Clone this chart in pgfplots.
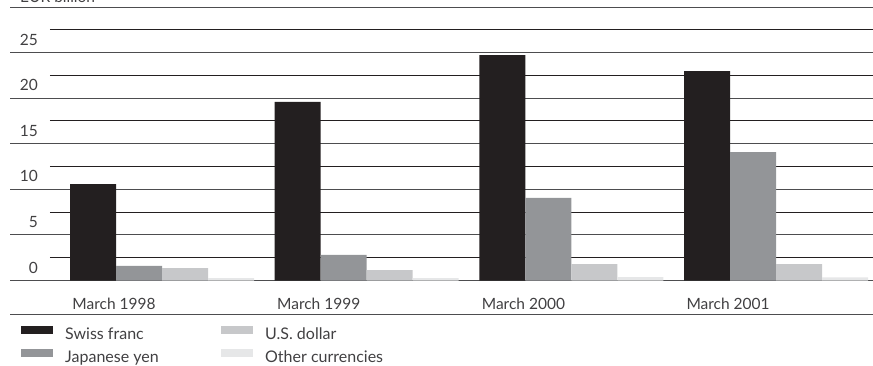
\documentclass[border=0pt]{standalone}
\usepackage{fontspec}
\setmainfont{Lato}
\usepackage{pgfplots}
\pgfplotsset{compat=1.18}
\definecolor{cSwiss}{HTML}{231F20}
\definecolor{cYen}{HTML}{939598}
\definecolor{cUSD}{HTML}{C7C8CA}
\definecolor{cOther}{HTML}{E6E7E8}
\definecolor{gridA}{HTML}{4D4D4F}
\definecolor{gridB}{HTML}{231F20}
\definecolor{txt}{HTML}{414042}
\begin{document}
\begin{tikzpicture}[x=1pt,y=1pt]
\useasboundingbox (0,0) rectangle (873,365);
\node[anchor=base west, inner sep=0pt, text=txt, font=\fontsize{15.5}{18}\selectfont] at (20,362.5) {EUR billion};
\begin{axis}[
  at={(10pt,84.5pt)}, anchor=south west,
  scale only axis, width=863pt, height=273.5pt,
  xmin=-0.7426, xmax=3.4734, ymin=0, ymax=30,
  ybar=0pt, bar width=46pt,
  axis line style={draw=none}, tick style={draw=none},
  ytick={0,5,...,30}, yticklabels={0,5,10,15,20,25,{}},
  ymajorgrids, major grid style={gridA, line width=1pt},
  yticklabel style={anchor=east, inner sep=0pt, xshift=28pt, yshift=13pt},
  xtick={0,1,2,3}, xticklabels={March 1998, March 1999, March 2000, March 2001},
  xticklabel style={anchor=base, inner sep=0pt, xshift=-48pt, yshift=-24.5pt},
  tick label style={font=\fontsize{15.5}{18}\selectfont, text=txt},
  /pgf/number format/assume math mode=true,
  legend style={at={(0,0)}, anchor=north west, xshift=11pt, yshift=-45.2pt,
    draw=none, fill=none, inner sep=0pt, column sep=12pt, row sep=6.5pt,
    nodes={inner sep=0pt, text height=11pt, text depth=3pt,
      font=\fontsize{16}{18}\selectfont, text=txt}},
  legend columns=2, transpose legend, legend cell align=left,
  legend image code/.code={\path[#1, draw=none] (0pt,1.7pt) rectangle (32pt,9.7pt);},
]
\pgfplotsinvokeforeach{2.5,7.5,12.5,17.5,22.5,27.5}{
  \draw[gridB, line width=1pt] (axis cs:-0.5472,#1) -- (axis cs:3.4734,#1);
}
\addplot[fill=cSwiss, draw=none] coordinates {(0,10.58) (1,19.58) (2,24.73) (3,22.98)};
\addlegendentry{\makebox[144pt][l]{Swiss franc}}
\addplot[fill=cYen, draw=none] coordinates {(0,1.6) (1,2.8) (2,9.05) (3,14.09)};
\addlegendentry{\makebox[144pt][l]{Japanese yen}}
\addplot[fill=cUSD, draw=none] coordinates {(0,1.37) (1,1.15) (2,1.8) (3,1.8)};
\addlegendentry{U.S. dollar}
\addplot[fill=cOther, draw=none] coordinates {(0,0.27) (1,0.27) (2,0.37) (3,0.35)};
\addlegendentry{Other currencies}
\end{axis}
\draw[gridA, line width=1pt] (10,50.5) -- (873,50.5);
\end{tikzpicture}
\end{document}
